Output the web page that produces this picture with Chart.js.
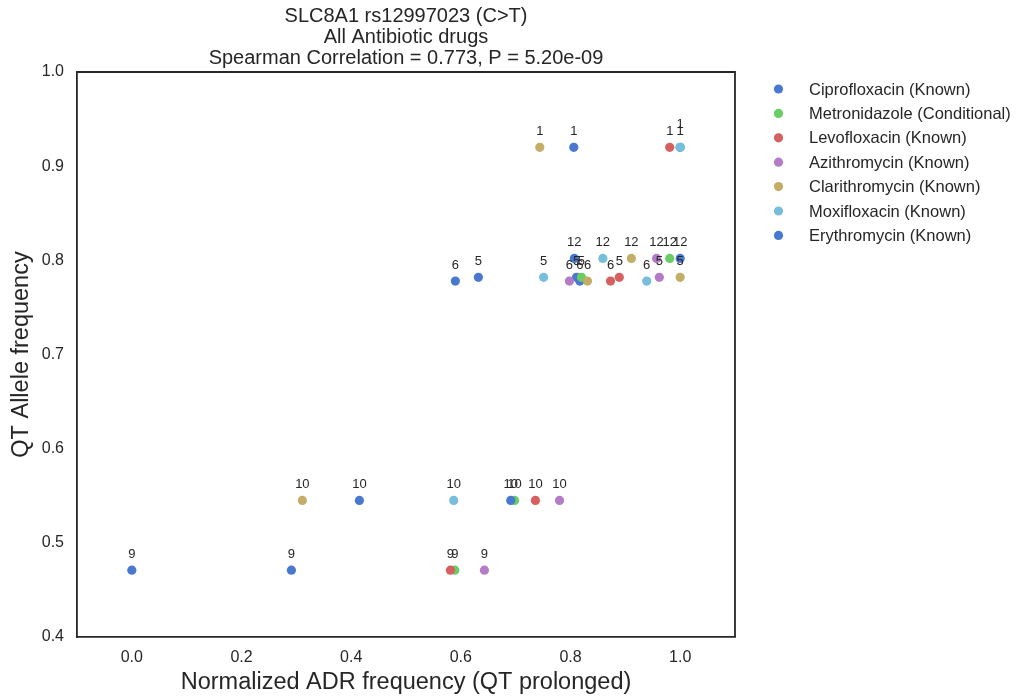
<!DOCTYPE html>
<html>
<head>
<meta charset="utf-8">
<script src="https://cdn.jsdelivr.net/npm/chart.js@4/dist/chart.umd.min.js"></script>
<style>
  html, body { margin: 0; background: #fff; }
  canvas { display: block; }
</style>
</head>
<body>
<canvas id="chart" width="1018" height="698"></canvas>
<script>
// Groups shared by every drug: id printed above each point and its QT allele frequency
const groupIds   = [1, 12, 5, 6, 10, 9];
const alleleFreq = [0.92, 0.802, 0.782, 0.778, 0.545, 0.471];

// Normalized ADR frequency per drug, one entry per group (null = no point)
const drugNames = [
  "Ciprofloxacin (Known)",
  "Metronidazole (Conditional)",
  "Levofloxacin (Known)",
  "Azithromycin (Known)",
  "Clarithromycin (Known)",
  "Moxifloxacin (Known)",
  "Erythromycin (Known)",
];
const ciprofloxacin  = [1.0,   0.807, 0.811, 0.817, 0.415, 0.291];
const metronidazole  = [null,  0.981, 0.820, null,  0.698, 0.589];
const levofloxacin   = [0.981, null,  0.889, 0.873, 0.736, 0.581];
const azithromycin   = [null,  0.957, 0.962, 0.798, 0.780, 0.643];
const clarithromycin = [0.744, 0.911, 1.0,   0.831, 0.311, null];
const moxifloxacin   = [1.0,   0.859, 0.751, 0.939, 0.587, null];
const erythromycin   = [0.806, 1.0,   0.632, 0.590, 0.691, 0.0];

const xTicks = [0.0, 0.2, 0.4, 0.6, 0.8, 1.0];
const yTicks = [0.4, 0.5, 0.6, 0.7, 0.8, 0.9, 1.0];

const TEXT  = "#262626";
const FONT  = "'Liberation Sans', Arial, sans-serif";
const PALETTE = ["#4878CF", "#6ACC65", "#D65F5F", "#B47CC7", "#C4AD66", "#77BEDB", "#4878CF"];

const series = [ciprofloxacin, metronidazole, levofloxacin, azithromycin,
                clarithromycin, moxifloxacin, erythromycin];

const datasets = series.map((vals, d) => ({
  label: drugNames[d],
  data: groupIds
    .map((g, i) => vals[i] == null ? null : { x: vals[i], y: alleleFreq[i], tag: g })
    .filter(Boolean),
  backgroundColor: PALETTE[d],
  borderWidth: 0,
  pointRadius: 4.6,
  pointHoverRadius: 4.6,
  order: series.length - d,   // later drugs sit on top
}));

// group id above every point; coincident labels are lifted a little
const pointTags = {
  id: "pointTags",
  afterDatasetsDraw(chart) {
    const { ctx } = chart;
    const used = [];
    ctx.save();
    ctx.font = `13px ${FONT}`;
    ctx.fillStyle = TEXT;
    ctx.textAlign = "center";
    ctx.textBaseline = "alphabetic";
    chart.data.datasets.forEach((ds, di) => {
      chart.getDatasetMeta(di).data.forEach((el, pi) => {
        let lift = 12;
        used.forEach(p => { if (Math.abs(p[0] - el.x) < 1 && Math.abs(p[1] - el.y) < 1) lift += 7; });
        used.push([el.x, el.y]);
        ctx.fillText(String(ds.data[pi].tag), el.x, el.y - lift);
      });
    });
    ctx.restore();
  },
};

// closes the frame and draws title and legend
const decorations = {
  id: "decorations",
  afterDraw(chart) {
    const { ctx, chartArea: a } = chart;
    ctx.save();
    ctx.strokeStyle = TEXT;
    ctx.lineWidth = 1.8;
    ctx.beginPath();
    ctx.moveTo(a.left, a.top);
    ctx.lineTo(a.right, a.top);
    ctx.lineTo(a.right, a.bottom);
    ctx.stroke();

    const title = ["SLC8A1 rs12997023 (C>T)", "All Antibiotic drugs",
                   "Spearman Correlation = 0.773, P = 5.20e-09"];
    ctx.fillStyle = TEXT;
    ctx.font = `20px ${FONT}`;
    ctx.textAlign = "center";
    ctx.textBaseline = "middle";
    const cx = (a.left + a.right) / 2;
    title.forEach((t, i) => ctx.fillText(t, cx, 16 + i * 21));

    ctx.font = `16.5px ${FONT}`;
    ctx.textAlign = "left";
    chart.data.datasets.forEach((ds, i) => {
      const y = 89 + i * 24.4;
      ctx.fillStyle = ds.backgroundColor;
      ctx.beginPath();
      ctx.arc(778.5, y, 4.6, 0, Math.PI * 2);
      ctx.fill();
      ctx.fillStyle = TEXT;
      ctx.fillText(ds.label, 809, y + 1);
    });
    ctx.restore();
  },
};

new Chart(document.getElementById("chart"), {
  type: "scatter",
  data: { datasets },
  plugins: [pointTags, decorations],
  options: {
    responsive: false,
    animation: false,
    layout: { padding: { left: 0, right: 283, top: 72, bottom: 0 } },
    plugins: {
      legend: { display: false },
      title: { display: false },
      tooltip: { enabled: false },
    },
    scales: {
      x: {
        type: "linear",
        min: -0.1,
        max: 1.1,
        afterBuildTicks: s => { s.ticks = xTicks.map(v => ({ value: v })); },
        afterFit: s => { s.height = 61; },
        grid: { display: false, drawTicks: false },
        border: { color: TEXT, width: 1.8 },
        ticks: { color: TEXT, padding: 11, font: { family: FONT, size: 16 }, callback: v => v.toFixed(1) },
        title: {
          display: true,
          text: "Normalized ADR frequency (QT prolonged)",
          color: TEXT,
          font: { family: FONT, size: 23.5 },
          padding: { top: 0, bottom: 1 },
        },
      },
      y: {
        type: "linear",
        min: 0.4,
        max: 1.0,
        afterBuildTicks: s => { s.ticks = yTicks.map(v => ({ value: v })); },
        afterFit: s => { s.width = 77; },
        grid: { display: false, drawTicks: false },
        border: { color: TEXT, width: 1.8 },
        ticks: { color: TEXT, padding: 13, font: { family: FONT, size: 16 }, callback: v => v.toFixed(1) },
        title: {
          display: true,
          text: "QT Allele frequency",
          color: TEXT,
          font: { family: FONT, size: 23.5 },
          padding: { top: 7, bottom: 0 },
        },
      },
    },
  },
});
</script>
</body>
</html>
